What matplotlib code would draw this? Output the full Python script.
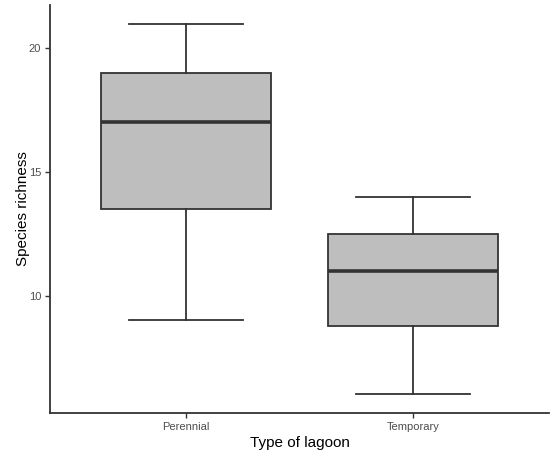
import matplotlib
matplotlib.use("Agg")
import matplotlib.pyplot as plt

categories = ["Perennial", "Temporary"]
whisker_low = [9, 6]
q1 = [13.5, 8.75]
median = [17, 11]
q3 = [19, 12.5]
whisker_high = [21, 14]
y_ticks = [10, 15, 20]

plt.rcParams['font.family'] = ['Liberation Sans', 'DejaVu Sans']

fig = plt.figure(figsize=(5.5, 4.51), dpi=100)
W, H = 550, 451
ax = fig.add_axes([50 / W, (H - 413) / H, (549 - 50) / W, (413 - 5) / H])

stats = []
for i, c in enumerate(categories):
    stats.append(dict(label=c, whislo=whisker_low[i], q1=q1[i], med=median[i],
                      q3=q3[i], whishi=whisker_high[i], fliers=[]))

edge = "#333333"
ax.bxp(stats, positions=[1, 2], widths=0.75, capwidths=0.5, patch_artist=True,
       showfliers=False,
       boxprops=dict(facecolor="#BEBEBE", edgecolor=edge, linewidth=1.3),
       medianprops=dict(color=edge, linewidth=2.6, solid_capstyle="butt"),
       whiskerprops=dict(color=edge, linewidth=1.3),
       capprops=dict(color=edge, linewidth=1.3))

ax.set_xlim(0.4, 2.6)
ax.set_ylim(5.25, 21.75)
ax.set_yticks(y_ticks)
ax.set_yticklabels([str(t) for t in y_ticks])
ax.set_xticks([1, 2])
ax.set_xticklabels(categories)

for s in ["top", "right"]:
    ax.spines[s].set_visible(False)
for s in ["left", "bottom"]:
    ax.spines[s].set_color("#333333")
    ax.spines[s].set_linewidth(1.3)

ax.tick_params(axis="both", length=3.8, width=1.0, color="#333333",
               labelsize=8, labelcolor="#4D4D4D", pad=2.5)

ax.set_xlabel("Type of lagoon", fontsize=11, color="black", labelpad=3)
ax.set_ylabel("Species richness", fontsize=11, color="black", labelpad=-0.5)

fig.savefig("out.png", dpi=100)
